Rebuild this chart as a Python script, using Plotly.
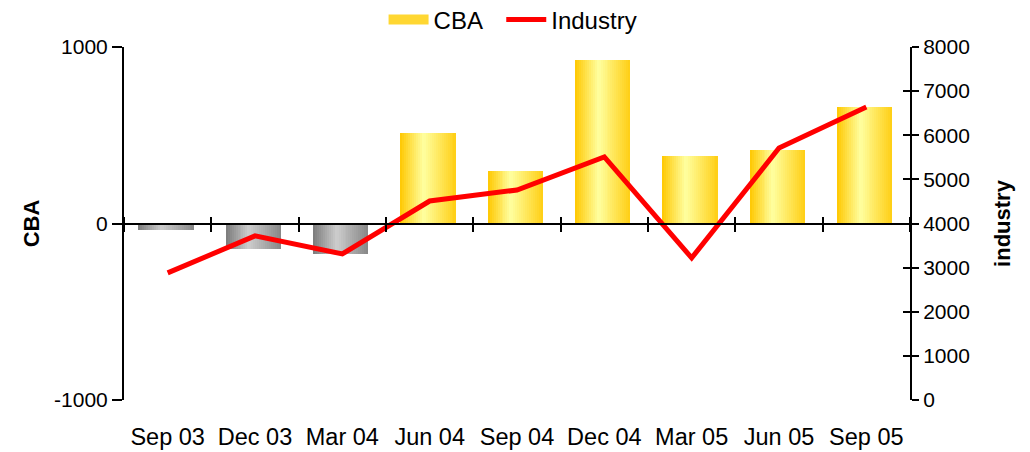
import plotly.graph_objects as go

quarters = ["Sep 03", "Dec 03", "Mar 04", "Jun 04", "Sep 04", "Dec 04", "Mar 05", "Jun 05", "Sep 05"]
cba = [-35, -145, -170, 514, 300, 927, 384, 418, 661]
industry = [2880, 3720, 3310, 4510, 4760, 5510, 3220, 5710, 6640]
cba_ticks = [-1000, 0, 1000]
cba_ticktext = ["-1000", "0", "1000"]
industry_ticks = [0, 1000, 2000, 3000, 4000, 5000, 6000, 7000, 8000]

FONT = "Liberation Sans, Arial, sans-serif"
xs = list(range(len(quarters)))
bounds = [i - 0.5 for i in range(len(quarters) + 1)]


def lerp(c1, c2, t):
    return tuple(round(a + (b - a) * t) for a, b in zip(c1, c2))


def grad(t, edge_l, mid, edge_r, peak=0.42):
    if t <= peak:
        c = lerp(edge_l, mid, t / peak)
    else:
        c = lerp(mid, edge_r, (t - peak) / (1 - peak))
    return "rgb(%d,%d,%d)" % c


YEL = ((255, 200, 0), (255, 255, 160), (255, 206, 20))
GRY = ((122, 122, 122), (205, 205, 205), (135, 135, 135))

fig = go.Figure()
W = 0.63
N = 28
for i in range(N):
    t = (i + 0.5) / N
    colors = [grad(t, *YEL) if v >= 0 else grad(t, *GRY) for v in cba]
    fig.add_trace(go.Bar(
        x=xs, y=cba, width=W / N + 0.002, offset=-W / 2 - 0.02 + i * W / N,
        marker=dict(color=colors, line=dict(width=0)),
        name="CBA", showlegend=False, hoverinfo="skip",
    ))

# legend entry for CBA (wide gold swatch)
fig.add_trace(go.Scatter(x=[None], y=[None], mode="lines", name="CBA\u00a0\u00a0",
                         line=dict(color="rgb(255,215,50)", width=13),
                         showlegend=True, legendrank=1))

fig.add_trace(go.Scatter(
    x=xs, y=industry, mode="lines", name="Industry", yaxis="y2",
    line=dict(color="#FF0000", width=5), legendrank=2,
))

# helper invisible traces to materialise extra axes
fig.add_trace(go.Scatter(x=[None], y=[None], xaxis="x2", yaxis="y", showlegend=False, hoverinfo="skip"))
fig.add_trace(go.Scatter(x=[None], y=[None], xaxis="x3", yaxis="y", showlegend=False, hoverinfo="skip"))
fig.add_trace(go.Scatter(x=[None], y=[None], xaxis="x", yaxis="y3", showlegend=False, hoverinfo="skip"))

xr = [-0.5, len(quarters) - 0.5]
fig.update_layout(
    template="none",
    width=1022, height=444,
    margin=dict(l=116, r=120, t=39, b=52, autoexpand=False),
    paper_bgcolor="white", plot_bgcolor="white",
    font=dict(family=FONT, size=22, color="black"),
    barmode="overlay", bargap=0,
    showlegend=True,
    legend=dict(orientation="h", x=0.495, xanchor="center", y=1.077, yanchor="middle",
                font=dict(size=24), bgcolor="rgba(0,0,0,0)", itemwidth=40),
    xaxis=dict(range=xr, tickvals=xs, ticktext=quarters, showline=False, showgrid=False,
               zeroline=False, ticks="", ticklabelstandoff=20, automargin=False,
               tickfont=dict(size=23.5)),
    xaxis2=dict(range=xr, overlaying="x", anchor="free", position=0.5, side="bottom",
                showline=True, linecolor="black", linewidth=2, ticks="outside", ticklen=7,
                tickwidth=2, tickcolor="black", tickvals=bounds, showticklabels=False,
                showgrid=False, zeroline=False, automargin=False),
    xaxis3=dict(range=xr, overlaying="x", anchor="free", position=0.5, side="top",
                showline=False, ticks="outside", ticklen=7, tickwidth=2, tickcolor="black",
                tickvals=bounds, showticklabels=False, showgrid=False, zeroline=False,
                automargin=False),
    yaxis=dict(range=[-1000, 1000], tickvals=cba_ticks, ticktext=cba_ticktext, showline=True,
               linecolor="black", linewidth=2, ticks="outside", ticklen=10, tickwidth=2,
               tickcolor="black", showgrid=False, zeroline=False, automargin=False,
               title=dict(text="<b>CBA</b>", standoff=8, font=dict(size=22)),
               tickfont=dict(size=21)),
    yaxis2=dict(range=[0, 8000], tickvals=industry_ticks, overlaying="y", side="right",
                anchor="x", showline=True, linecolor="black", linewidth=2, ticks="outside",
                ticklen=7, tickwidth=2, tickcolor="black", showgrid=False, zeroline=False,
                automargin=False, title=dict(text="<b>industry</b>", standoff=26, font=dict(size=22)),
                tickfont=dict(size=21)),
    yaxis3=dict(range=[0, 8000], tickvals=industry_ticks, overlaying="y", side="right",
                anchor="x", showline=False, ticks="inside", ticklen=7, tickwidth=2,
                tickcolor="black", showticklabels=False, showgrid=False, zeroline=False,
                automargin=False),
)

fig.write_html("out.html")
